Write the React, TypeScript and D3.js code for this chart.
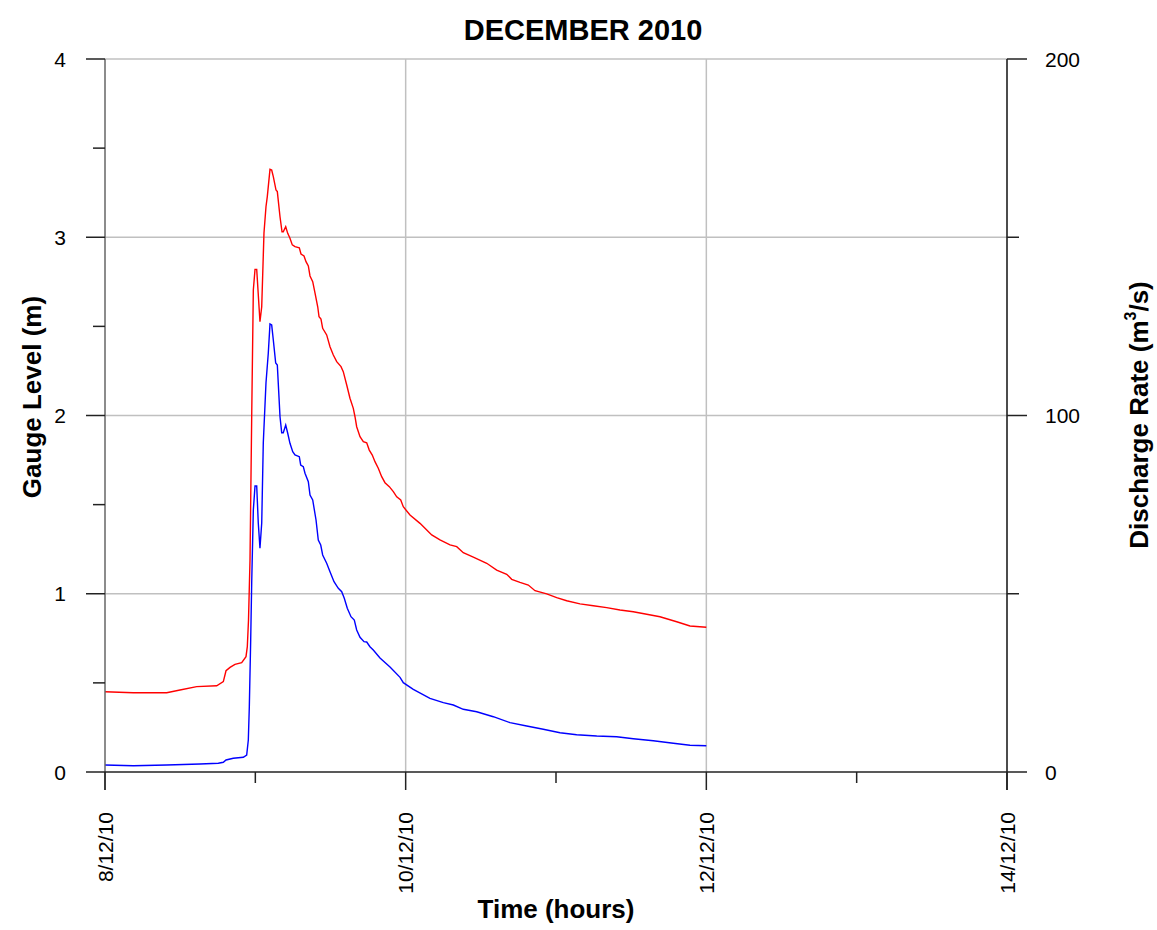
import React from "react";
import * as d3 from "d3";

// Hours since 8/12/10 00:00, gauge level (m)
const gaugeHours = [0, 4.52, 9.85, 11.97, 14.64, 17.83, 18.89, 19.32, 19.96, 20.75, 21.82, 22.51, 22.72, 22.91, 23.15, 23.42, 23.68, 23.95, 24.22, 24.74, 25.02, 25.38, 25.7, 25.91, 26.34, 26.61, 26.87, 27.3, 27.51, 27.94, 28.26, 28.46, 28.85, 29.17, 29.53, 29.9, 30.33, 31.02, 31.29, 31.77, 32.09, 32.46, 32.73, 33.16, 33.53, 33.96, 34.17, 34.48, 34.75, 35.39, 35.92, 36.45, 36.99, 37.68, 38.04, 38.59, 39.11, 39.64, 39.91, 40.18, 40.71, 41.24, 41.78, 42.19, 42.67, 43.1, 43.63, 44.17, 44.7, 45.39, 46.03, 46.57, 47.21, 47.62, 48.69, 50.29, 52.16, 53.48, 55.08, 56.15, 57.2, 58.8, 60.94, 62.53, 64.13, 64.93, 66.25, 67.58, 68.65, 70.52, 72.11, 73.71, 75.83, 77.96, 80.09, 82.22, 84.34, 86.48, 88.6, 91.27, 93.39, 96];
const gaugeLevel = [0.45, 0.445, 0.445, 0.46, 0.479, 0.484, 0.507, 0.568, 0.587, 0.604, 0.613, 0.647, 0.703, 0.853, 1.189, 1.993, 2.704, 2.82, 2.82, 2.526, 2.61, 3.024, 3.171, 3.228, 3.381, 3.377, 3.34, 3.265, 3.256, 3.115, 3.031, 3.031, 3.059, 3.022, 2.994, 2.957, 2.947, 2.941, 2.906, 2.895, 2.863, 2.839, 2.783, 2.751, 2.686, 2.61, 2.554, 2.541, 2.489, 2.452, 2.386, 2.339, 2.302, 2.274, 2.246, 2.171, 2.097, 2.04, 1.993, 1.937, 1.881, 1.853, 1.847, 1.806, 1.778, 1.741, 1.704, 1.657, 1.623, 1.601, 1.573, 1.544, 1.526, 1.488, 1.442, 1.395, 1.33, 1.302, 1.274, 1.264, 1.23, 1.205, 1.171, 1.133, 1.109, 1.081, 1.064, 1.049, 1.017, 0.999, 0.978, 0.961, 0.943, 0.933, 0.922, 0.909, 0.899, 0.885, 0.871, 0.843, 0.819, 0.812];

// Hours since 8/12/10 00:00, discharge rate (m3/s)
const dischargeHours = [0, 4.52, 9.85, 15.17, 18.09, 18.89, 19.32, 20.48, 22.08, 22.62, 22.88, 23.04, 23.15, 23.26, 23.42, 23.68, 23.95, 24.22, 24.47, 24.74, 25.02, 25.27, 25.7, 26.07, 26.34, 26.61, 26.87, 27.25, 27.51, 27.94, 28.21, 28.46, 28.85, 29.17, 29.53, 29.97, 30.33, 31.02, 31.24, 31.66, 31.93, 32.46, 32.73, 33.16, 33.69, 34.05, 34.44, 34.75, 35.39, 35.92, 36.56, 37.25, 37.79, 38.2, 38.68, 39.27, 39.8, 40.18, 40.71, 41.35, 41.78, 42.3, 42.83, 43.9, 45.5, 47.1, 47.62, 49.22, 51.88, 54.01, 55.61, 57.2, 59.34, 61.99, 64.66, 67.32, 69.97, 72.64, 75.3, 78.5, 81.69, 84.34, 87.53, 90.73, 93.39, 96];
const dischargeRate = [1.96, 1.77, 1.96, 2.24, 2.44, 2.72, 3.37, 3.84, 4.12, 4.77, 8.98, 18.32, 27.77, 37.03, 53.02, 73.49, 80.22, 80.22, 69.85, 62.75, 69.85, 92.29, 109.12, 117.53, 125.67, 125.39, 121.18, 114.73, 114.17, 99.66, 95.18, 95.18, 97.34, 95.01, 92.2, 89.85, 88.92, 88.44, 86.12, 85.64, 83.79, 81.43, 77.7, 76.3, 70.69, 65.08, 63.67, 60.87, 58.54, 56.19, 53.38, 51.53, 50.57, 48.72, 45.92, 43.56, 42.64, 39.83, 37.78, 36.55, 36.47, 35.15, 34.22, 31.98, 29.45, 26.56, 25.05, 23.2, 20.67, 19.44, 18.79, 17.59, 16.91, 15.51, 13.83, 12.9, 11.98, 11.02, 10.46, 10.1, 9.9, 9.34, 8.78, 8.05, 7.49, 7.38];

const xTickHours = [0, 24, 48, 72, 96, 120, 144];
const xTickLabels = ["8/12/10", "", "10/12/10", "", "12/12/10", "", "14/12/10"];
const leftTicks = [0, 1, 2, 3, 4];
const leftMinorTicks = [0.5, 1.5, 2.5, 3.5];
const rightTicks = [0, 100, 200];
const rightMinorTicks = [50, 150];

const W = 1157, H = 930;
const L = 105, R = 1007, T = 59, B = 772;

export default function App() {
  const x = d3.scaleLinear().domain([0, 144]).range([L, R]);
  const yL = d3.scaleLinear().domain([0, 4]).range([B, T]);
  const yR = d3.scaleLinear().domain([0, 200]).range([B, T]);

  const gaugeLine = d3.line<number>().x((_, i) => x(gaugeHours[i])).y((d) => yL(d));
  const dischargeLine = d3.line<number>().x((_, i) => x(dischargeHours[i])).y((d) => yR(d));

  const font = "Arial, 'Liberation Sans', sans-serif";
  const grid = "#c0c0c0";

  return (
    <svg width={W} height={H} style={{ position: "absolute", left: 0, top: 0, background: "#fff" }} fontFamily={font}>
      {/* grid */}
      {leftTicks.filter((t) => t > 0).map((t) => (
        <line key={"hg" + t} x1={L} x2={R} y1={yL(t)} y2={yL(t)} stroke={grid} strokeWidth={1.5} />
      ))}
      {xTickHours.filter((h) => h > 0 && h < 144 && h % 48 === 0).map((h) => (
        <line key={"vg" + h} x1={x(h)} x2={x(h)} y1={T} y2={B} stroke={grid} strokeWidth={1.5} />
      ))}

      {/* data */}
      <path d={gaugeLine(gaugeLevel) || ""} fill="none" stroke="#ff0000" strokeWidth={1.4} />
      <path d={dischargeLine(dischargeRate) || ""} fill="none" stroke="#0000ff" strokeWidth={1.4} />

      {/* left axis */}
      <line x1={L} x2={L} y1={T} y2={B + 18} stroke="#666" strokeWidth={1.5} />
      {leftTicks.map((t) => (
        <g key={"lt" + t}>
          <line x1={L - 19} x2={L} y1={yL(t)} y2={yL(t)} stroke="#222" strokeWidth={1.5} />
          <text x={L - 39} y={yL(t)} textAnchor="end" dominantBaseline="central" fontSize={21}>{t}</text>
        </g>
      ))}
      {leftMinorTicks.map((t) => (
        <line key={"lm" + t} x1={L - 12} x2={L} y1={yL(t)} y2={yL(t)} stroke="#222" strokeWidth={1.5} />
      ))}

      {/* right axis */}
      <line x1={R} x2={R} y1={T} y2={B + 18} stroke="#111" strokeWidth={1.5} />
      {rightTicks.map((t) => (
        <g key={"rt" + t}>
          <line x1={R} x2={R + 20} y1={yR(t)} y2={yR(t)} stroke="#222" strokeWidth={1.5} />
          <text x={R + 38} y={yR(t)} textAnchor="start" dominantBaseline="central" fontSize={21}>{t}</text>
        </g>
      ))}
      {rightMinorTicks.map((t) => (
        <line key={"rm" + t} x1={R} x2={R + 12} y1={yR(t)} y2={yR(t)} stroke="#222" strokeWidth={1.5} />
      ))}

      {/* bottom axis */}
      <line x1={L} x2={R} y1={B} y2={B} stroke="#222" strokeWidth={1.5} />
      {xTickHours.map((h, i) => (
        <g key={"xt" + h}>
          <line x1={x(h)} x2={x(h)} y1={B} y2={B + (xTickLabels[i] ? 18 : 11)} stroke="#222" strokeWidth={1.5} />
          {xTickLabels[i] && (
            <text transform={`translate(${x(h)},${B + 40}) rotate(-90)`} textAnchor="end" dominantBaseline="central" fontSize={21}>
              {xTickLabels[i]}
            </text>
          )}
        </g>
      ))}

      {/* titles */}
      <text x={583} y={40} textAnchor="middle" fontSize={29} fontWeight="bold">DECEMBER 2010</text>
      <text x={556} y={918} textAnchor="middle" fontSize={26} fontWeight="bold">Time (hours)</text>
      <text transform={`translate(32,397) rotate(-90)`} textAnchor="middle" dominantBaseline="central" fontSize={26} fontWeight="bold">Gauge Level (m)</text>
      <text transform={`translate(1139,415) rotate(-90)`} textAnchor="middle" dominantBaseline="central" fontSize={26} fontWeight="bold">
        Discharge Rate (m<tspan baselineShift="super" fontSize={16}>3</tspan>/s)
      </text>
    </svg>
  );
}
